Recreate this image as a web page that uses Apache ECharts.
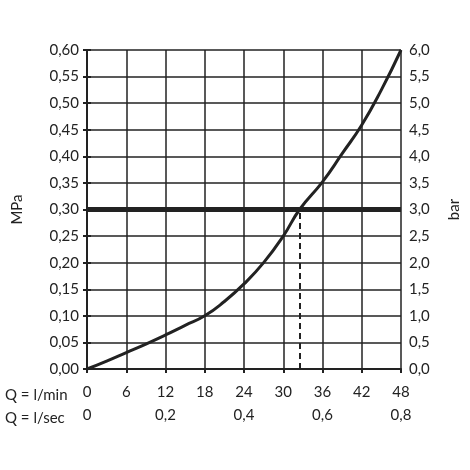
<!DOCTYPE html>
<html>
<head>
<meta charset="utf-8">
<script src="https://cdn.jsdelivr.net/npm/echarts@6/dist/echarts.min.js"></script>
<style>html,body{margin:0;padding:0;background:#fff}#chart{width:470px;height:470px}</style>
</head>
<body>
<div id="chart"></div>
<script>
// flow in l/min vs pressure in MPa
const flowLmin = [0, 3, 6, 9, 12, 15, 18, 21, 24, 27, 30, 32.5, 36, 39, 42, 45, 48]
const pressureMPa = [0, 0.015, 0.031, 0.047, 0.064, 0.082, 0.10, 0.127, 0.16, 0.20, 0.25, 0.30, 0.352, 0.405, 0.459, 0.525, 0.60]
const markFlow = 32.5
const markPressure = 0.30

const font = 'Lato'
const comma = (d) => (v) => v.toFixed(d).replace('.', ',')
const black = '#222'

let chart = echarts.init(document.getElementById('chart'))

chart.setOption({
    animation: false,
    grid: {left: 87, right: 68, top: 50, bottom: 101},
    xAxis: [{
        type: 'value', min: 0, max: 48, interval: 6, position: 'bottom',
        axisLine: {lineStyle: {color: black, width: 2}},
        axisTick: {show: true, length: 4, lineStyle: {color: black, width: 2}},
        axisLabel: {color: black, fontFamily: font, fontSize: 15, margin: 16},
        splitLine: {lineStyle: {color: black, width: 1.5}}
    }, {
        type: 'value', min: 0, max: 0.8, interval: 0.2, position: 'bottom', offset: 23,
        axisLine: {show: false}, axisTick: {show: false}, splitLine: {show: false},
        axisLabel: {color: black, fontFamily: font, fontSize: 15, margin: 16,
            formatter: (v) => v === 0 ? '0' : comma(1)(v)}
    }],
    yAxis: [{
        type: 'value', min: 0, max: 0.6, interval: 0.05, position: 'left',
        name: 'MPa', nameLocation: 'middle', nameGap: 62, nameRotate: 90,
        nameTextStyle: {color: black, fontFamily: font, fontSize: 15},
        axisLine: {show: true, lineStyle: {color: black, width: 2}},
        axisTick: {show: true, length: 4, lineStyle: {color: black, width: 2}},
        axisLabel: {color: black, fontFamily: font, fontSize: 15, margin: 8, formatter: comma(2)},
        splitLine: {lineStyle: {color: black, width: 1.5}}
    }, {
        type: 'value', min: 0, max: 6, interval: 0.5, position: 'right',
        name: 'bar', nameLocation: 'middle', nameGap: 46, nameRotate: 90,
        nameTextStyle: {color: black, fontFamily: font, fontSize: 15},
        axisLine: {show: true, lineStyle: {color: black, width: 2}},
        axisTick: {show: true, length: 4, lineStyle: {color: black, width: 2}},
        axisLabel: {color: black, fontFamily: font, fontSize: 15, margin: 8, formatter: comma(1)},
        splitLine: {show: false}
    }],
    graphic: [
        {type: 'text', left: 5, top: 388, style: {text: 'Q = l/min', font: '15px Lato', fill: black}},
        {type: 'text', left: 5, top: 411, style: {text: 'Q = l/sec', font: '15px Lato', fill: black}}
    ],
    series: [{
        type: 'line', smooth: true, symbol: 'none',
        data: flowLmin.map((x, i) => [x, pressureMPa[i]]),
        lineStyle: {color: black, width: 3},
        markLine: {
            silent: true, symbol: 'none', label: {show: false},
            data: [
                [{coord: [0, markPressure], lineStyle: {type: 'solid', width: 5, color: black}},
                 {coord: [48, markPressure]}],
                [{coord: [markFlow, 0], lineStyle: {type: [6, 4], width: 2, color: black}},
                 {coord: [markFlow, markPressure]}]
            ]
        }
    }]
})
</script>
</body>
</html>
